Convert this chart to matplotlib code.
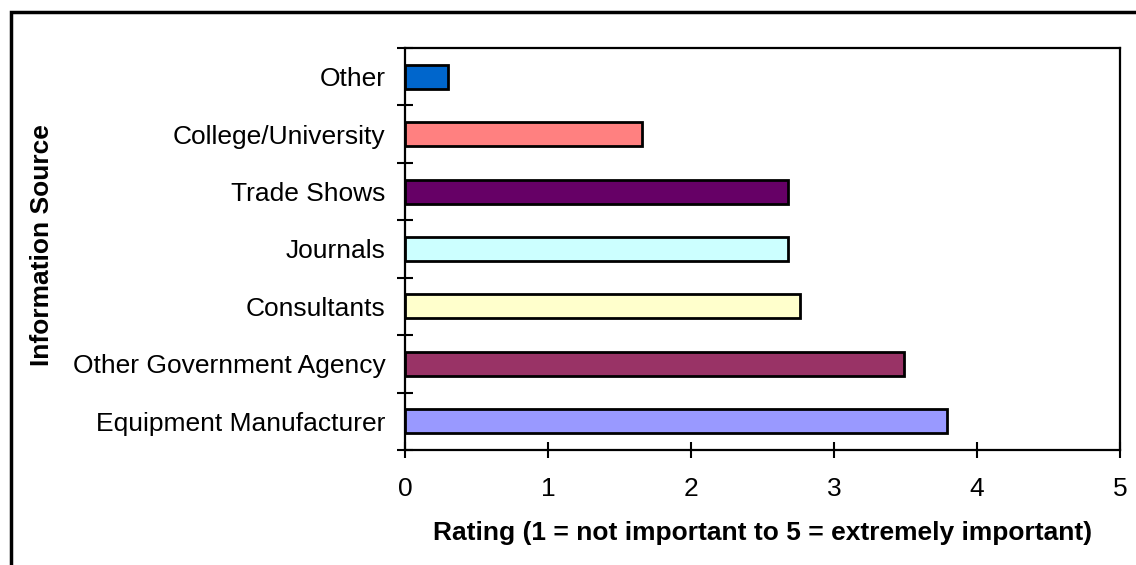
import numpy as np
import matplotlib
matplotlib.use("Agg")
import matplotlib.pyplot as plt
from matplotlib.patches import Rectangle
from matplotlib.ticker import FixedLocator

# data (bottom to top)
sources = ["Equipment Manufacturer", "Other Government Agency", "Consultants",
           "Journals", "Trade Shows", "College/University", "Other"]
ratings = [3.79, 3.49, 2.76, 2.68, 2.68, 1.66, 0.30]
barColors = ["#9999FF", "#993366", "#FFFFCC", "#CCFFFF", "#660066", "#FF8080", "#0066CC"]
xTicks = [0, 1, 2, 3, 4, 5]

plt.rcParams['font.family'] = ['Liberation Sans', 'DejaVu Sans']

fig = plt.figure(figsize=(11.36, 5.65), dpi=100)
ax = fig.add_axes([405 / 1136, 1 - 450 / 565, 715 / 1136, 402 / 565])

y_pos = np.arange(len(sources))
ax.barh(y_pos, ratings, height=0.42, color=barColors, edgecolor='black',
        linewidth=2.0, zorder=3)

ax.set_xlim(0, 5)
ax.set_ylim(-0.5, len(sources) - 0.5)

ax.set_xticks(xTicks)
ax.set_xticklabels([str(t) for t in xTicks], fontsize=19)
ax.tick_params(axis='x', direction='inout', length=11.5, width=1.5, pad=14)

ax.set_yticks(y_pos)
ax.set_yticklabels(sources, fontsize=19)
ax.yaxis.set_minor_locator(FixedLocator(np.arange(-0.5, len(sources), 1.0)))
ax.tick_params(axis='y', which='major', length=0, pad=14)
ax.tick_params(axis='y', which='minor', direction='inout', length=11.5, width=1.5)

for s in ax.spines.values():
    s.set_linewidth(1.6)

ax.set_xlabel("Rating (1 = not important to 5 = extremely important)",
              fontsize=19, fontweight='bold', labelpad=14)
fig.text(42 / 1136, 1 - 245 / 565, "Information Source", rotation=90,
         fontsize=19, fontweight='bold', ha='center', va='center')

# outer chart frame (only left and top edges are visible in the crop)
fig.add_artist(Rectangle((10.5 / 1136, -0.2), 1.5, 1.2 - 11.5 / 565,
                         transform=fig.transFigure, fill=False,
                         edgecolor='black', linewidth=2.5))

fig.savefig("out.png", dpi=100)
